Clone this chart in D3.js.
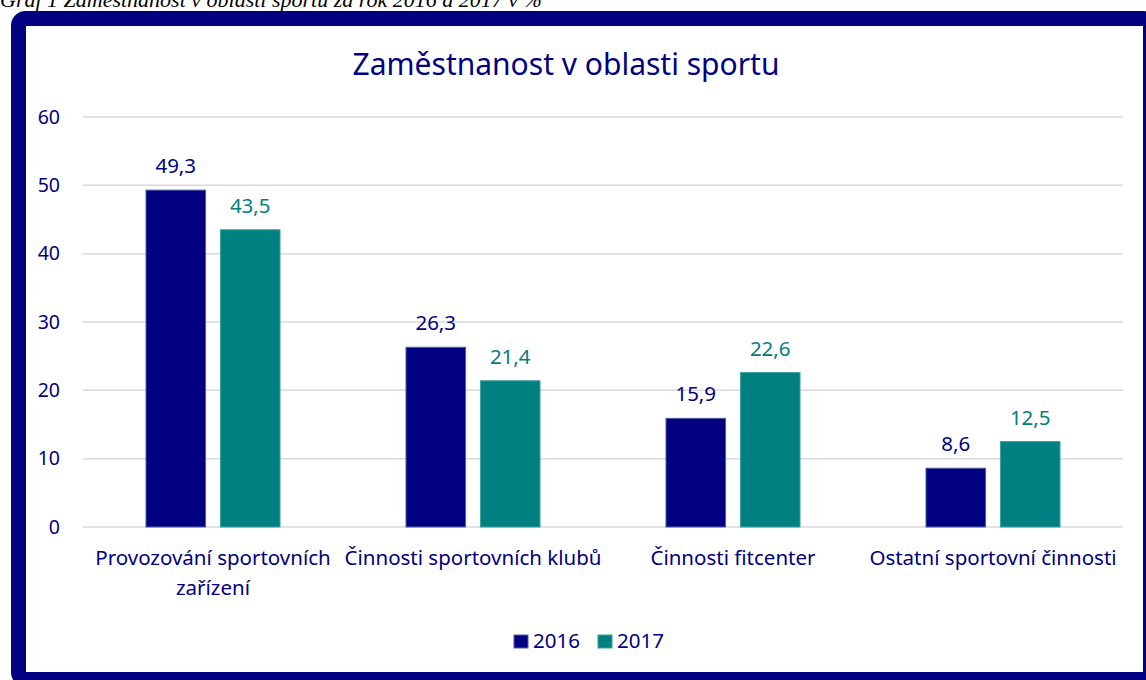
<!DOCTYPE html>
<html>
<head>
<meta charset="utf-8">
<script src="https://cdn.jsdelivr.net/npm/d3@7"></script>
<style>
  body { margin: 0; background: #fff; }
  svg { display: block; }
</style>
</head>
<body>
<div id="chart"></div>
<script>
// chart data
const categories = [
  ['Provozování sportovních', 'zařízení'],
  ['Činnosti sportovních klubů'],
  ['Činnosti fitcenter'],
  ['Ostatní sportovní činnosti']
];
const years = ['2016', '2017'];
const values2016 = [49.3, 26.3, 15.9, 8.6];
const values2017 = [43.5, 21.4, 22.6, 12.5];
const yTicks = [0, 10, 20, 30, 40, 50, 60];

const colors = {'2016': '#000080', '2017': '#008080'};
const strokes = {'2016': '#4f5f9f', '2017': '#3f9f9f'};
const navy = '#000080';
const font = '"Noto Sans", "Open Sans", sans-serif';

const W = 1146, H = 680;
const margin = {top: 117, right: 23, bottom: 153, left: 83},
      width = W - margin.left - margin.right,
      height = H - margin.top - margin.bottom;

const svg = d3.select('#chart').append('svg')
    .attr('width', W)
    .attr('height', H);

// caption above the frame (clipped at top like the source)
svg.append('text')
    .attr('x', 0)
    .attr('y', 7)
    .attr('font-family', '"Liberation Serif", "Times New Roman", serif')
    .attr('font-style', 'italic')
    .attr('font-size', 22)
    .attr('fill', '#000')
    .text('Graf 1 Zaměstnanost v oblasti sportu za rok 2016 a 2017 v %');

// dark frame
svg.append('rect')
    .attr('x', 18.5).attr('y', 18.5)
    .attr('width', 1132).attr('height', 661)
    .attr('rx', 7)
    .attr('fill', '#fff')
    .attr('stroke', navy)
    .attr('stroke-width', 15);

svg.append('text')
    .attr('x', 566)
    .attr('y', 75)
    .attr('text-anchor', 'middle')
    .attr('font-family', font)
    .attr('font-size', 30)
    .attr('fill', navy)
    .text('Zaměstnanost v oblasti sportu');

const g = svg.append('g')
    .attr('transform', `translate(${margin.left},${margin.top})`);

const x0 = d3.scaleBand().domain(d3.range(categories.length)).range([0, width]);
const x1 = d3.scaleBand().domain(years).range([0, 134]).paddingInner(0.2);
const y = d3.scaleLinear().domain([0, 60]).range([height, 0]);

// gridlines
g.selectAll('.grid').data(yTicks).enter().append('line')
    .attr('x1', 0).attr('x2', width)
    .attr('y1', d => y(d)).attr('y2', d => y(d))
    .attr('stroke', '#d9d9d9')
    .attr('stroke-width', 1.5);

// y axis labels
const yAxis = d3.axisLeft(y).tickValues(yTicks).tickSize(0).tickPadding(23);
const ya = g.append('g').call(yAxis);
ya.select('.domain').remove();
ya.selectAll('text')
    .attr('font-family', font)
    .attr('font-size', 19.5)
    .attr('fill', navy);

const series = years.map((yr, i) => ({
  year: yr,
  values: i === 0 ? values2016 : values2017
}));

series.forEach(s => {
  const gs = g.append('g');
  gs.selectAll('rect').data(s.values).enter().append('rect')
      .attr('x', (d, i) => x0(i) + x0.bandwidth() / 2 - 67 + x1(s.year))
      .attr('y', d => y(d))
      .attr('width', x1.bandwidth())
      .attr('height', d => y(0) - y(d))
      .attr('fill', colors[s.year])
      .attr('stroke', strokes[s.year])
      .attr('stroke-width', 1);
  gs.selectAll('text').data(s.values).enter().append('text')
      .attr('x', (d, i) => x0(i) + x0.bandwidth() / 2 - 67 + x1(s.year) + x1.bandwidth() / 2)
      .attr('y', d => y(d) - 17)
      .attr('text-anchor', 'middle')
      .attr('font-family', font)
      .attr('font-size', 20.5)
      .attr('fill', colors[s.year])
      .text(d => d.toFixed(1).replace('.', ','));
});

// category labels
const cl = g.append('g');
categories.forEach((lines, i) => {
  const t = cl.append('text')
      .attr('x', x0(i) + x0.bandwidth() / 2)
      .attr('y', height + 38)
      .attr('text-anchor', 'middle')
      .attr('font-family', font)
      .attr('font-size', 20.5)
      .attr('fill', navy);
  lines.forEach((ln, j) => {
    t.append('tspan')
        .attr('x', x0(i) + x0.bandwidth() / 2)
        .attr('dy', j === 0 ? 0 : 30)
        .text(ln);
  });
});

// legend
const legend = svg.append('g').attr('transform', 'translate(514,635)');
const lx = [0, 84];
years.forEach((yr, i) => {
  legend.append('rect')
      .attr('x', lx[i]).attr('y', 0)
      .attr('width', 14).attr('height', 13)
      .attr('fill', colors[yr])
      .attr('stroke', strokes[yr]);
  legend.append('text')
      .attr('x', lx[i] + 19).attr('y', 13)
      .attr('font-family', font)
      .attr('font-size', 20.5)
      .attr('fill', navy)
      .text(yr);
});
</script>
</body>
</html>
